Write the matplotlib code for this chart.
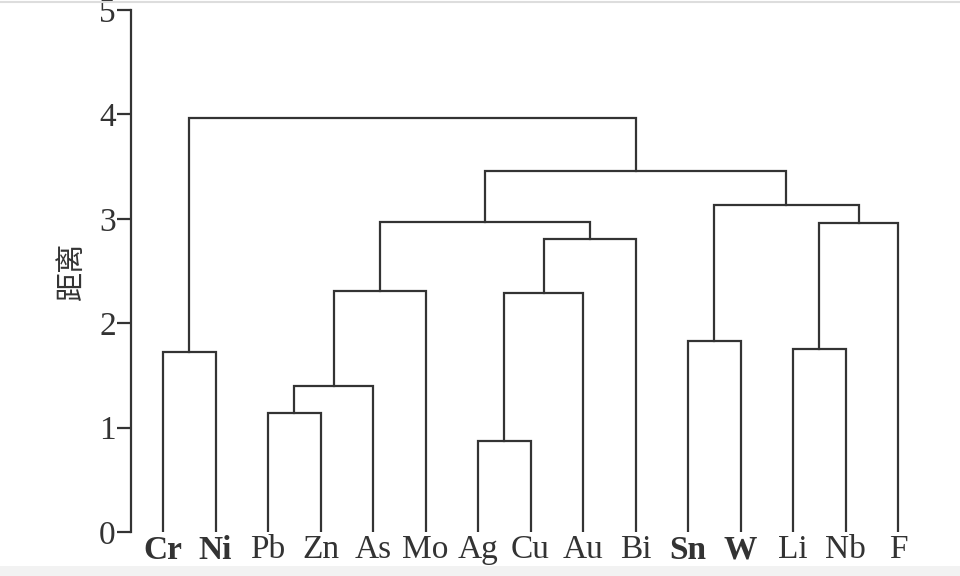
import matplotlib.pyplot as plt
from matplotlib.patches import Rectangle
from matplotlib.lines import Line2D

# leaf order as shown on the x axis
leaves = ['Cr', 'Ni', 'Pb', 'Zn', 'As', 'Mo', 'Ag', 'Cu', 'Au', 'Bi',
          'Sn', 'W', 'Li', 'Nb', 'F']
bold_leaves = ['Cr', 'Ni', 'Sn', 'W']

# merges: (left cluster, right cluster, distance); new clusters get ids 15, 16, ...
merge_left = [2, 15, 16, 6, 18, 19, 17, 12, 22, 10, 24, 21, 0, 27]
merge_right = [3, 4, 5, 7, 8, 9, 20, 13, 14, 11, 23, 25, 1, 26]
merge_height = [1.14, 1.40, 2.31, 0.87, 2.29, 2.81, 2.97, 1.75, 2.96,
                1.83, 3.13, 3.46, 1.72, 3.97]

yticks = [0, 1, 2, 3, 4, 5]

line_color = '#333333'

fig = plt.figure(figsize=(9.6, 5.76), dpi=100)
ax = fig.add_axes([0.1365, 0.0764, 0.8427, 0.9063])

# cluster positions: leaves at their index, height 0
xpos = {i: float(i) for i in range(len(leaves))}
ypos = {i: 0.0 for i in range(len(leaves))}
n = len(leaves)
for k, (a, b, h) in enumerate(zip(merge_left, merge_right, merge_height)):
    ax.plot([xpos[a], xpos[a], xpos[b], xpos[b]],
            [ypos[a], h, h, ypos[b]],
            color=line_color, lw=1.6, solid_joinstyle='miter')
    xpos[n + k] = (xpos[a] + xpos[b]) / 2
    ypos[n + k] = h

ax.set_xlim(-0.61, 14.8)
ax.set_ylim(0, 5)

for s in ['top', 'right', 'bottom']:
    ax.spines[s].set_visible(False)
ax.spines['left'].set_color(line_color)
ax.spines['left'].set_linewidth(1.6)

ax.set_yticks(yticks)
ax.set_yticklabels([str(t) for t in yticks], fontsize=24,
                   family='Liberation Serif', color=line_color)
ax.tick_params(axis='y', direction='out', length=10, width=1.6,
               color=line_color, pad=1)

ax.set_xticks(range(n))
ax.set_xticklabels(leaves, fontsize=24, family='Liberation Serif',
                   color=line_color)
for lab in ax.get_xticklabels():
    if lab.get_text() in bold_leaves:
        lab.set_fontweight('bold')
ax.tick_params(axis='x', length=0, pad=2)

ax.set_ylabel('距离', fontsize=21, family=['Noto Sans CJK SC', 'DejaVu Sans'],
              color=line_color)
ax.yaxis.set_label_coords(-0.054, 0.5)

# page frame from the source scan
fig.patches.append(Rectangle((0, 0), 1, 10 / 576, transform=fig.transFigure,
                             facecolor='#f2f2f2', edgecolor='none'))
fig.lines.append(Line2D([0, 1], [1 - 2 / 576, 1 - 2 / 576],
                        transform=fig.transFigure, color='#dddddd', lw=1.5))

fig.savefig('out.png', dpi=100)
